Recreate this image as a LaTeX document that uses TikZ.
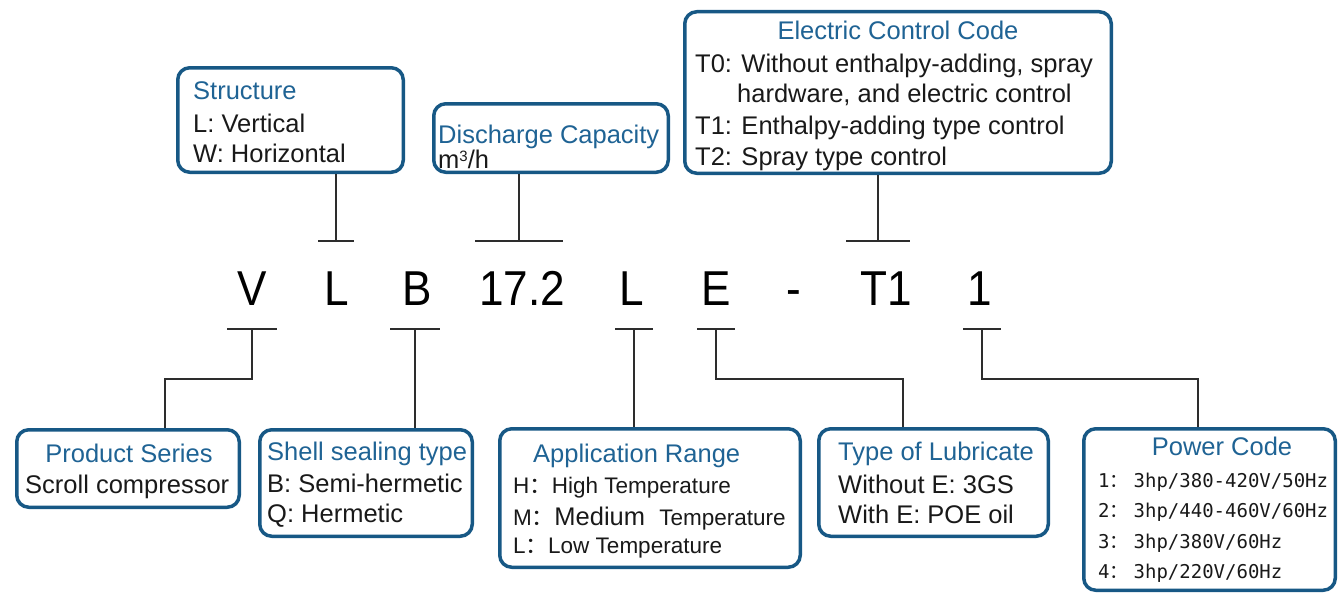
\documentclass[tikz,border=0pt]{standalone}
\usepackage{fontspec}
\setmainfont{Liberation Sans}
\newfontfamily\cjk{Noto Sans CJK SC}
\newfontfamily\codefont[FakeStretch=0.9]{Liberation Sans}
\newfontfamily\pwrfont{DejaVu Sans Mono}

\definecolor{boxblue}{RGB}{23,88,133}
\definecolor{titleblue}{RGB}{31,99,148}
\definecolor{linkgray}{RGB}{45,45,45}

\begin{document}
\begin{tikzpicture}[x=1pt, y=-1pt,
    box/.style={draw=boxblue, line width=3.5pt, rounded corners=12pt, inner sep=0pt},
    ttl/.style={text=titleblue, font=\fontsize{25.5}{30}\selectfont, inner sep=0pt},
    itm/.style={text=black!90, font=\fontsize{25.5}{30}\selectfont, inner sep=0pt},
    sml/.style={itm, font=\fontsize{22.5}{28}\selectfont},
    pwr/.style={itm, font=\fontsize{19}{24}\pwrfont},
    code/.style={font=\fontsize{49}{55}\codefont, inner sep=0pt, anchor=base},
    link/.style={draw=linkgray, line width=2pt}]
\useasboundingbox (0,0) rectangle (1340,594);

%% boxes: name/left/top/width/height
\foreach \n/\x/\y/\w/\h in {structure/176/66/229/108, discharge/432/102/238/72,
    electric/683/10/430/165, series/15/428/226/81, shell/258/428/216/110,
    apprange/498/427/304/142, lube/817/427/233/111, power/1082/427/255/165}{
  \node[box, minimum width={(\w-3.5)*1pt}, minimum height={(\h-3.5)*1pt}]
    (\n) at ({\x+\w/2},{\y+\h/2}) {};
}

%% model code
\foreach \n/\x/\t in {cV/252/V, cL/337/L, cB/417/B, cCap/522/17.2, cPos/632/L,
    cE/716/E, cDash/794/-, cT/886/T1, cN/980/1}{
  \node[code] (\n) at (\x,305) {\t};
}

%% upper boxes
\node[ttl, anchor=base west] (structure-t) at (193,99) {Structure};
\foreach \t [count=\i] in {L: Vertical, W: Horizontal}
  \node[itm, anchor=base west] (structure-\i) at (193,{102+30*\i}) {\t};

\node[ttl, anchor=base west] (discharge-t) at (438,143) {Discharge Capacity};
\node[itm, anchor=base west] (discharge-1) at (438,168)
  {m\raisebox{7pt}{\fontsize{15}{15}\selectfont 3}/h};

\node[ttl, anchor=base] (electric-t) at (898,40) {Electric Control Code};
\node[itm, anchor=base west] (electric-1) at (695,72) {T0: Without enthalpy-adding, spray};
\node[itm, anchor=base west] (electric-2) at (737,102) {hardware, and electric control};
\node[itm, anchor=base west] (electric-3) at (695,134) {T1: Enthalpy-adding type control};
\node[itm, anchor=base west] (electric-4) at (695,165) {T2: Spray type control};

%% lower boxes
\node[ttl, anchor=base] (series-t) at (129,462) {Product Series};
\node[itm, anchor=base west] (series-1) at (25,493) {Scroll compressor};

\node[ttl, anchor=base west] (shell-t) at (267,460) {Shell sealing type};
\foreach \t [count=\i] in {B: Semi-hermetic, Q: Hermetic}
  \node[itm, anchor=base west] (shell-\i) at (267,{462+30*\i}) {\t};

\node[ttl, anchor=base west] (apprange-t) at (533,462) {Application Range};
\node[sml, anchor=base west] (apprange-1) at (513,493) {H{\cjk ：}High Temperature};
\node[sml, anchor=base west] (apprange-2) at (513,525)
  {M{\cjk ：}{\fontsize{25.5}{30}\selectfont Medium}\hspace{8pt} Temperature};
\node[sml, anchor=base west] (apprange-3) at (513,553) {L{\cjk ：}Low Temperature};

\node[ttl, anchor=base west] (lube-t) at (838,460) {Type of Lubricate};
\foreach \t [count=\i] in {Without E: 3GS, With E: POE oil}
  \node[itm, anchor=base west] (lube-\i) at (838,{463+30*\i}) {\t};

\node[ttl, anchor=base] (power-t) at (1222,455) {Power Code};
\foreach \t [count=\i] in {{3hp/380-420V/50Hz}, {3hp/440-460V/60Hz}, {3hp/380V/60Hz}, {3hp/220V/60Hz}}
  \node[pwr, anchor=base west] (power-\i) at (1098,{456.5+30.5*\i}) {\i{\cjk ：}\hspace{5pt}\t};

%% connectors above the code
\coordinate (tStructure) at (336,241);
\coordinate (tDischarge) at (519,241);
\coordinate (tElectric) at (878,241);
\draw[link] (structure.south -| tStructure) -- (tStructure);
\draw[link] (discharge.south -| tDischarge) -- (tDischarge);
\draw[link] (electric.south -| tElectric) -- (tElectric);
\foreach \c/\w in {tStructure/18, tDischarge/44, tElectric/32}
  \draw[link] ([xshift=-\w pt]\c) -- ([xshift=\w pt]\c);

%% connectors below the code
\coordinate (bV) at (252,329);
\coordinate (bB) at (415,329);
\coordinate (bPos) at (634,329);
\coordinate (bE) at (716,329);
\coordinate (bN) at (982,329);
\coordinate (kV) at (165,379);
\coordinate (kE) at (903,379);
\coordinate (kN) at (1198,379);
\draw[link] (bV) |- (kV) -- (kV |- series.north);
\draw[link] (bB) -- (bB |- shell.north);
\draw[link] (bPos) -- (bPos |- apprange.north);
\draw[link] (bE) |- (kE) -- (kE |- lube.north);
\draw[link] (bN) |- (kN) -- (kN |- power.north);
\foreach \c/\w in {bV/25, bB/25, bPos/19, bE/19, bN/19}
  \draw[link] ([xshift=-\w pt]\c) -- ([xshift=\w pt]\c);
\end{tikzpicture}
\end{document}
